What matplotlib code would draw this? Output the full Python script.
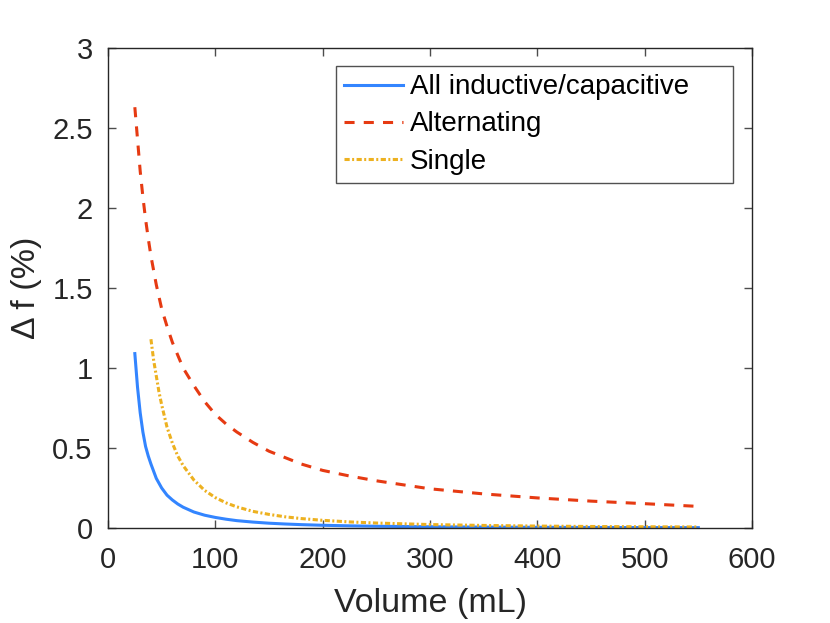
import matplotlib
matplotlib.use('Agg')
from matplotlib import pyplot as plt

# volumes (mL) and frequency shift (%)
vol_all = [25, 27.5, 30, 32.5, 35, 37.5, 40, 45, 50, 55, 60, 65, 70, 80, 90,
           100, 110, 120, 135, 150, 165, 180, 200, 225, 250, 300, 350, 400,
           450, 500, 550]
df_all = [1.09, 0.88, 0.72, 0.60, 0.51, 0.45, 0.40, 0.31, 0.25, 0.205, 0.175,
          0.15, 0.13, 0.10, 0.08, 0.066, 0.055, 0.046, 0.037, 0.030, 0.025,
          0.021, 0.017, 0.0135, 0.011, 0.0077, 0.0056, 0.0043, 0.0034, 0.0028,
          0.0023]

vol_alt = [25, 27.5, 30, 32.5, 35, 37.5, 40, 45, 50, 55, 60, 65, 70, 80, 90,
           100, 110, 120, 135, 150, 165, 180, 200, 225, 250, 275, 300, 350,
           400, 450, 500, 550]
df_alt = [2.63, 2.43, 2.23, 2.07, 1.93, 1.81, 1.70, 1.52, 1.37, 1.26, 1.16,
          1.08, 1.00, 0.89, 0.79, 0.71, 0.65, 0.60, 0.535, 0.48, 0.44, 0.40,
          0.36, 0.325, 0.295, 0.27, 0.245, 0.213, 0.188, 0.168, 0.152, 0.135]

vol_single = [40, 42.5, 45, 47.5, 50, 55, 60, 65, 70, 80, 90, 100, 110, 120,
              135, 150, 165, 180, 200, 225, 250, 300, 350, 400, 450, 500, 550]
df_single = [1.18, 1.05, 0.95, 0.85, 0.77, 0.63, 0.53, 0.45, 0.39, 0.30,
             0.235, 0.19, 0.157, 0.132, 0.104, 0.085, 0.070, 0.059, 0.048,
             0.038, 0.031, 0.0215, 0.016, 0.012, 0.0095, 0.0077, 0.0064]

labels = ['All inductive/capacitive', 'Alternating', 'Single']

plt.rcParams['font.family'] = ['Liberation Sans', 'DejaVu Sans']

fig = plt.figure(figsize=(8.3, 6.23), dpi=100)
ax = fig.add_axes([108 / 830, 95 / 623, 644 / 830, 480 / 623])

ax.plot(vol_all, df_all, color='#3385FF', lw=2.2, label=labels[0])
ax.plot(vol_alt, df_alt, color='#E63A12', lw=2.2, dashes=(3.3, 3.0),
        label=labels[1])
ax.plot(vol_single, df_single, color='#EDB120', lw=2.2,
        dashes=(1.7, 0.8, 0.65, 0.8), label=labels[2])

ax.set_xlim(0, 600)
ax.set_ylim(0, 3)
ax.set_xticks(range(0, 601, 100))
ax.set_yticks([0, 0.5, 1, 1.5, 2, 2.5, 3])
ax.set_yticklabels(['0', '0.5', '1', '1.5', '2', '2.5', '3'])

ax.tick_params(direction='in', top=True, right=True, length=6, width=1,
               color='#4d4d4d', labelsize=21, labelcolor='#262626')
ax.tick_params(axis='x', pad=13)
ax.tick_params(axis='y', pad=11)
for s in ax.spines.values():
    s.set_color('#262626')
    s.set_linewidth(1)

ax.set_xlabel('Volume (mL)', fontsize=24.5, color='#262626', labelpad=10)
ax.set_ylabel('\u0394 f (%)', fontsize=24.5, color='#262626', labelpad=7)

# legend box spans x 336..733 px, top at 66 px in the reference
leg = ax.legend(loc='upper left', bbox_to_anchor=(0.354, 0.0, 0.6165, 0.9625),
                mode='expand', fontsize=20, frameon=True, fancybox=False,
                handlelength=2.1, handletextpad=0.25, borderpad=0.3,
                labelspacing=0.4, borderaxespad=0)
leg.get_frame().set_edgecolor('#262626')
leg.get_frame().set_linewidth(1)

fig.savefig('out.png', dpi=100)
